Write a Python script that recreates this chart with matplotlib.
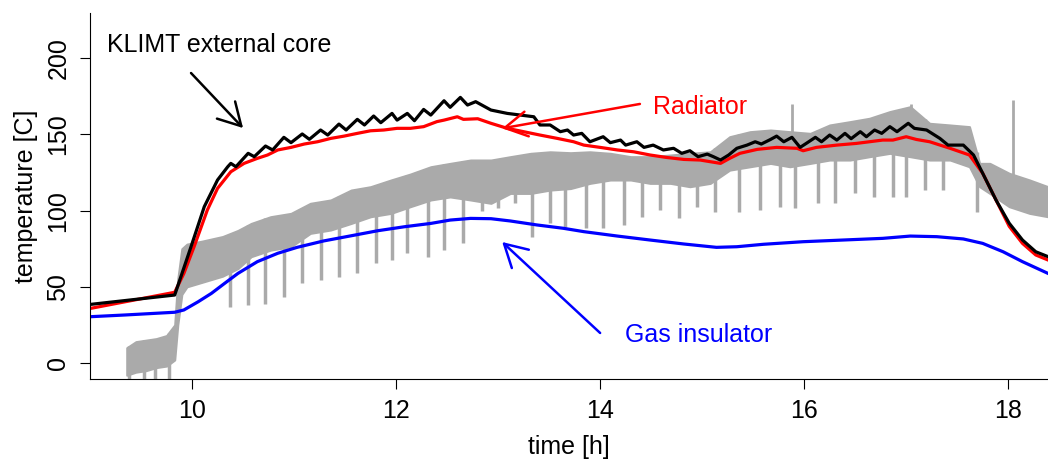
import numpy as np
import matplotlib
matplotlib.use('Agg')
import matplotlib.pyplot as plt

plt.rcParams['font.family'] = ['Liberation Sans', 'DejaVu Sans']

# KLIMT external core (black)
core_t = [9.01, 9.83, 9.99, 10.12, 10.25, 10.35, 10.38, 10.43, 10.55, 10.61, 10.72, 10.79,
          10.90, 10.97, 11.08, 11.15, 11.26, 11.33, 11.44, 11.51, 11.62, 11.69, 11.78, 11.85,
          11.96, 12.01, 12.11, 12.18, 12.27, 12.34, 12.47, 12.53, 12.63, 12.70, 12.78, 12.93,
          13.09, 13.22, 13.35, 13.41, 13.51, 13.61, 13.68, 13.74, 13.82, 13.90, 14.03, 14.10,
          14.20, 14.25, 14.36, 14.43, 14.52, 14.62, 14.72, 14.80, 14.88, 14.96, 15.05, 15.11,
          15.18, 15.26, 15.34, 15.44, 15.52, 15.58, 15.67, 15.73, 15.80, 15.88, 15.96, 16.02,
          16.11, 16.17, 16.25, 16.32, 16.40, 16.46, 16.55, 16.61, 16.69, 16.76, 16.84, 16.91,
          17.02, 17.08, 17.20, 17.33, 17.41, 17.56, 17.66, 17.75, 17.88, 18.01, 18.14, 18.27, 18.39]
core_v = [38.5, 44.6, 76.3, 102.6, 120.1, 128.8, 131.0, 128.8, 137.6, 135.4, 142.4, 139.8,
          148.1, 144.6, 150.3, 146.8, 152.9, 149.6, 156.8, 152.9, 159.9, 156.2, 162.1, 157.7,
          163.8, 159.4, 163.8, 159.0, 166.4, 162.7, 172.1, 167.8, 174.3, 169.3, 171.5, 166.0,
          163.8, 162.7, 161.6, 156.2, 156.2, 151.8, 152.9, 149.6, 150.7, 145.2, 148.5, 144.6,
          146.3, 143.0, 145.2, 141.5, 143.0, 139.8, 140.9, 137.6, 139.3, 135.4, 137.1, 135.4,
          133.2, 136.5, 140.9, 143.0, 145.2, 143.7, 146.7, 148.9, 145.2, 148.1, 141.5, 144.1,
          148.1, 145.2, 149.6, 146.3, 150.7, 147.2, 151.8, 148.5, 152.9, 150.7, 155.1, 151.8,
          157.3, 154.0, 152.9, 147.4, 143.0, 143.0, 136.5, 124.5, 107.0, 91.7, 80.7, 73.0, 69.8]

# Radiator (red)
rad_t = [9.01, 9.83, 9.92, 10.02, 10.15, 10.25, 10.38, 10.51, 10.64, 10.74, 10.84, 10.97,
         11.10, 11.23, 11.36, 11.49, 11.62, 11.75, 11.88, 12.01, 12.14, 12.27, 12.40, 12.47,
         12.60, 12.66, 12.80, 12.93, 13.09, 13.25, 13.41, 13.58, 13.74, 13.84, 14.00, 14.17,
         14.33, 14.49, 14.65, 14.82, 14.98, 15.18, 15.27, 15.37, 15.54, 15.73, 15.93, 15.99,
         16.12, 16.32, 16.51, 16.64, 16.77, 16.87, 17.00, 17.10, 17.23, 17.43, 17.62, 17.75,
         17.88, 18.01, 18.14, 18.27, 18.39]
rad_v = [35.9, 46.4, 58.8, 76.3, 100.4, 114.6, 125.5, 131.0, 134.3, 136.5, 139.8, 141.5,
         143.7, 145.2, 147.4, 148.9, 150.7, 152.4, 152.9, 154.0, 154.0, 155.1, 158.4, 159.4,
         161.6, 159.9, 160.3, 157.3, 154.0, 151.8, 149.6, 147.4, 145.2, 143.0, 141.5, 139.8,
         138.6, 136.5, 134.9, 133.6, 133.2, 131.0, 134.3, 137.6, 140.2, 141.5, 140.9, 139.3,
         141.5, 143.0, 144.1, 145.2, 146.3, 146.3, 148.5, 146.7, 145.2, 140.9, 136.5, 124.5,
         107.0, 89.7, 78.5, 70.9, 67.6]

# Gas insulator (blue)
gas_t = [9.01, 9.34, 9.83, 9.92, 10.06, 10.19, 10.32, 10.45, 10.64, 10.84, 11.03, 11.29,
         11.56, 11.82, 12.08, 12.34, 12.53, 12.73, 12.93, 13.12, 13.38, 13.64, 13.84, 14.17,
         14.49, 14.82, 15.14, 15.34, 15.60, 15.99, 16.38, 16.77, 17.04, 17.30, 17.56, 17.75,
         17.95, 18.14, 18.39]
gas_v = [30.4, 31.5, 33.3, 34.8, 40.2, 45.7, 52.3, 58.8, 66.5, 72.0, 75.9, 80.1,
         83.5, 86.8, 89.4, 91.6, 93.8, 94.9, 94.7, 93.2, 90.6, 88.4, 86.2, 83.3,
         80.7, 78.1, 75.9, 76.3, 77.9, 79.6, 80.7, 81.8, 83.3, 82.9, 81.4, 78.5,
         73.0, 66.5, 58.8]

# measured signal (grey): band envelope, periodic dips and single spikes
meas_t = [9.36, 9.45, 9.55, 9.65, 9.75, 9.83, 9.86, 9.90, 9.95, 10.10, 10.30, 10.45, 10.58,
          10.77, 10.97, 11.16, 11.36, 11.56, 11.75, 11.95, 12.14, 12.34, 12.53, 12.73, 12.93,
          13.12, 13.32, 13.51, 13.71, 13.90, 14.10, 14.30, 14.49, 14.69, 14.88, 15.08, 15.27,
          15.47, 15.67, 15.86, 16.06, 16.25, 16.45, 16.64, 16.84, 17.04, 17.23, 17.43, 17.62,
          17.72, 17.82, 18.01, 18.21, 18.39]
meas_hi = [10, 14, 15, 16, 18, 25, 55, 75, 78, 80, 83, 87, 91.6,
           96, 98.2, 104.8, 107, 113.5, 115.7, 120.1, 124, 128.8, 131, 133.2, 133.2,
           135.4, 137.6, 138.6, 138, 138.6, 137.6, 135.4, 135.4, 136.5, 137.6, 138.6, 148.5,
           151.8, 152.9, 151.8, 150.7, 156.2, 158.4, 160.6, 165, 168.2, 157.3, 156.2, 155.1,
           131, 131, 124.5, 120.1, 115.7]
meas_lo = [-8, -6, -5, -3, -2, 2, 25, 45, 50, 53, 57, 62, 69.8,
           74.1, 76.3, 85.1, 87.3, 91.6, 96, 98.2, 102.6, 107, 109, 107, 104.8,
           111.3, 111.3, 113.5, 114.5, 117.9, 120.1, 120.1, 117.9, 117.9, 115.7, 117.9, 126.6,
           128.8, 131, 128.8, 131, 133.2, 133.2, 135.4, 137.6, 135.4, 133.2, 133.2, 128.8,
           115.7, 111.3, 102.6, 98.2, 96]
dip_t = [9.38, 9.53, 9.64, 9.77, 10.37, 10.55, 10.72, 10.90, 11.08, 11.26, 11.44, 11.62,
         11.80, 11.96, 12.11, 12.31, 12.47, 12.66, 12.84, 13.00, 13.17, 13.33, 13.51, 13.66,
         13.86, 14.03, 14.23, 14.41, 14.59, 14.77, 14.95, 15.13, 15.36, 15.57, 15.76, 15.91,
         16.14, 16.30, 16.50, 16.68, 16.87, 17.00, 17.18, 17.36, 17.69]
dip_v = [-12, -12, -12, -12, 37, 38, 39, 43.5, 52.3, 54.5, 56.6, 58.8,
         65.4, 67.6, 72, 69.8, 74.1, 78.5, 100, 102, 105, 82.9, 91.6, 89.4,
         88.4, 88.4, 90.6, 96, 100.4, 94.9, 102.6, 99.3, 99.3, 100.4, 102.6, 101.5,
         104.8, 104.8, 111.3, 109.2, 109.2, 109.2, 113.5, 113.5, 99.3]
spike_t = [15.88, 17.05, 18.05]
spike_v = [170.3, 170.3, 172.6]

fig = plt.figure(figsize=(10.48, 4.59), dpi=100)
ax = fig.add_axes([0.0859, 0.1743, 0.9141, 0.7974])

grey = '#aaaaaa'
ax.fill_between(meas_t, meas_lo, meas_hi, color=grey, lw=1.5, edgecolor=grey)
ax.vlines(dip_t, dip_v, np.interp(dip_t, meas_t, meas_hi), color=grey, lw=2.5)
ax.vlines(spike_t, np.interp(spike_t, meas_t, meas_hi), spike_v, color=grey, lw=2.0)

ax.plot(gas_t, gas_v, color='#0000ff', lw=2.3)
ax.plot(rad_t, rad_v, color='#ff0000', lw=2.3)
ax.plot(core_t, core_v, color='black', lw=2.3)

arrow = dict(arrowstyle='->,head_length=0.8,head_width=0.45', lw=1.8,
             shrinkA=0, shrinkB=0, mutation_scale=20)
ax.annotate('', xy=(10.50, 154.2), xytext=(9.99, 190.3), arrowprops=dict(arrow, color='black'))
ax.annotate('', xy=(13.04, 154.0), xytext=(14.39, 170.0), arrowprops=dict(arrow, color='#ff0000'))
ax.annotate('', xy=(13.04, 79.4), xytext=(14.00, 19.7), arrowprops=dict(arrow, color='#0000ff'))
ax.text(9.17, 208.7, 'KLIMT external core', fontsize=18, color='black', ha='left', va='center')
ax.text(14.52, 168.0, 'Radiator', fontsize=18, color='#ff0000', ha='left', va='center')
ax.text(14.24, 18.4, 'Gas insulator', fontsize=18, color='#0000ff', ha='left', va='center')

ax.set_xlim(9.0, 18.39)
ax.set_ylim(-10.5, 229.7)
ax.set_xticks([10, 12, 14, 16, 18])
ax.set_yticks([0, 50, 100, 150, 200])
ax.spines['top'].set_visible(False)
ax.spines['right'].set_visible(False)
ax.tick_params(direction='out', length=7.2, width=0.8, labelsize=18, pad=7)
ax.tick_params(axis='y', labelrotation=90)
for lab in ax.get_yticklabels():
    lab.set_va('center')
ax.set_xlabel('time [h]', fontsize=18, labelpad=9)
ax.set_ylabel('temperature [C]', fontsize=18, labelpad=6)

plt.savefig('out.png', dpi=100)
